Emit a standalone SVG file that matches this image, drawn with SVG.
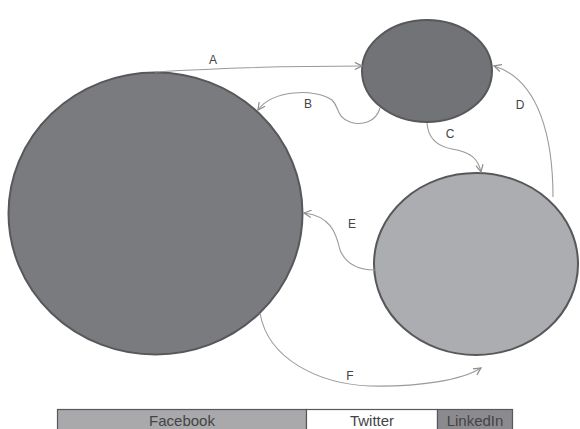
<svg xmlns="http://www.w3.org/2000/svg" width="580" height="429" viewBox="0 0 580 429">
<defs>
<style>
.node{stroke:#58585b;stroke-width:2}
.c{fill:none;stroke:#9a9a9c;stroke-width:1.1}
.lbl{font-family:"Liberation Sans",Arial,sans-serif;font-size:12px;fill:#444;text-anchor:middle}
.lg{font-family:"Liberation Sans",Arial,sans-serif;font-size:15px;fill:#444;text-anchor:middle}
.lgr{stroke:#58585b;stroke-width:1.2}
</style>
<marker id="arr" viewBox="0 0 10 10" refX="9" refY="5" markerWidth="9" markerHeight="9" markerUnits="userSpaceOnUse" orient="auto">
<path d="M1,1 L9,5 L1,9" fill="none" stroke="#8a8a8c" stroke-width="1.3"/>
</marker>
</defs>
<rect width="580" height="429" fill="#fff"/>
<g id="facebook"><ellipse class="node" cx="155.5" cy="213.5" rx="147" ry="141" fill="#7a7b7f"/></g>
<g id="twitter"><ellipse class="node" cx="427" cy="71" rx="65" ry="51" fill="#727377"/></g>
<g id="linkedin"><ellipse class="node" cx="476" cy="264" rx="102" ry="91" fill="#acadb0"/></g>
<g id="connectors">
<path class="c" marker-end="url(#arr)" d="M155,72 C220,68 300,66 362,66"/>
<path class="c" marker-end="url(#arr)" d="M380,108 C376,122 362,126 350,122 C336,117 340,108 332,100 C315,88 272,90 258,110"/>
<path class="c" marker-end="url(#arr)" d="M427,123 C428,138 436,146 452,149 C470,152 478,158 481,172"/>
<path class="c" marker-end="url(#arr)" d="M553,197 C553,140 540,80 494,66"/>
<path class="c" marker-end="url(#arr)" d="M375,270 C356,270 345,262 340,250 C336,232 330,216 304,213"/>
<path class="c" marker-end="url(#arr)" d="M260,313 C268,360 320,384 370,386 C420,387 462,380 481,368"/>
</g>
<g id="labels">
<text class="lbl" x="213" y="64">A</text>
<text class="lbl" x="308" y="108">B</text>
<text class="lbl" x="450" y="138">C</text>
<text class="lbl" x="520" y="109">D</text>
<text class="lbl" x="352" y="228">E</text>
<text class="lbl" x="350" y="380">F</text>
</g>
<g id="legend">
<rect class="lgr" x="57.5" y="409.5" width="249" height="22" fill="#a9a9ac"/>
<rect class="lgr" x="306.5" y="409.5" width="131" height="22" fill="#fff"/>
<rect class="lgr" x="437.5" y="409.5" width="75" height="22" fill="#8b8b8f"/>
<text class="lg" x="182" y="425.5">Facebook</text>
<text class="lg" x="372" y="425.5">Twitter</text>
<text class="lg" x="475" y="425.5">LinkedIn</text>
</g>
</svg>
